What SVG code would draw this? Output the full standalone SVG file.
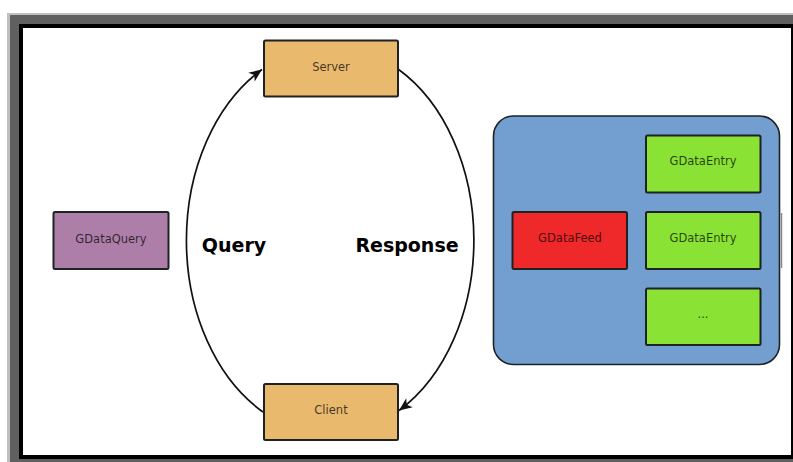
<svg xmlns="http://www.w3.org/2000/svg" width="793" height="462" viewBox="0 0 793 462">
<defs>
<style>
.box{stroke:#1e2224;stroke-width:2}
.lbl{font-family:"DejaVu Sans",sans-serif;font-size:11.5px;fill:#000;fill-opacity:0.72;text-anchor:middle}
.big{font-family:"DejaVu Sans",sans-serif;font-size:19px;font-weight:bold;fill:#000;text-anchor:middle}
.conn{fill:none;stroke:#111;stroke-width:1.7}
</style>
<marker id="arr" markerUnits="userSpaceOnUse" markerWidth="16" markerHeight="14" viewBox="-14 -7 16 14" refX="0" refY="0" orient="auto">
<path d="M0,0 L-13,-5.5 L-9.5,0 L-13,5.5 Z" fill="#111"/>
</marker>
</defs>
<rect x="0" y="0" width="793" height="462" fill="#fff"/>
<rect x="7" y="13" width="786" height="449" fill="#c0c0c0"/>
<rect x="10" y="15" width="783" height="447" fill="#606060"/>
<rect x="19" y="24" width="774" height="435" fill="#000"/>
<rect x="23" y="28" width="768" height="427" fill="#fff"/>
<g id="connectors">
<path class="conn" d="M263,412 A143.5,194 0 0 1 262,69.5" marker-end="url(#arr)"/>
<path class="conn" d="M398,69 A143.5,194 0 0 1 399,410.5" marker-end="url(#arr)"/>
</g>
<g id="server"><rect class="box" x="264" y="40.5" width="134" height="56" rx="1.5" fill="#e9b96e"/><text class="lbl" x="331" y="70.5">Server</text></g>
<g id="client"><rect class="box" x="264" y="384" width="134" height="56" rx="1.5" fill="#e9b96e"/><text class="lbl" x="331" y="413.5">Client</text></g>
<g id="gdataquery"><rect class="box" x="53.5" y="212" width="115" height="57" rx="1.5" fill="#ad7fa8"/><text class="lbl" x="111" y="242.5">GDataQuery</text></g>
<g id="label-query"><text class="big" x="234" y="252">Query</text></g>
<g id="label-response"><text class="big" x="407" y="252">Response</text></g>
<g id="container">
<rect x="493.5" y="116" width="286" height="248.5" rx="20" fill="#729fcf" stroke="#1e2224" stroke-width="1.6"/>
<line x1="781.5" y1="213" x2="781.5" y2="268" stroke="#888" stroke-width="1.5"/>
</g>
<g id="gdatafeed"><rect class="box" x="512.5" y="212" width="114.5" height="57" rx="1.5" fill="#ef2929"/><text class="lbl" x="570" y="242">GDataFeed</text></g>
<g id="gdataentry1"><rect class="box" x="646" y="135.5" width="114.5" height="57" rx="1.5" fill="#8ae234"/><text class="lbl" x="703" y="165">GDataEntry</text></g>
<g id="gdataentry2"><rect class="box" x="646" y="212" width="114.5" height="57" rx="1.5" fill="#8ae234"/><text class="lbl" x="703" y="242">GDataEntry</text></g>
<g id="ellipsis"><rect class="box" x="646" y="288.5" width="114.5" height="56.5" rx="1.5" fill="#8ae234"/><text class="lbl" x="703" y="318">...</text></g>
</svg>
